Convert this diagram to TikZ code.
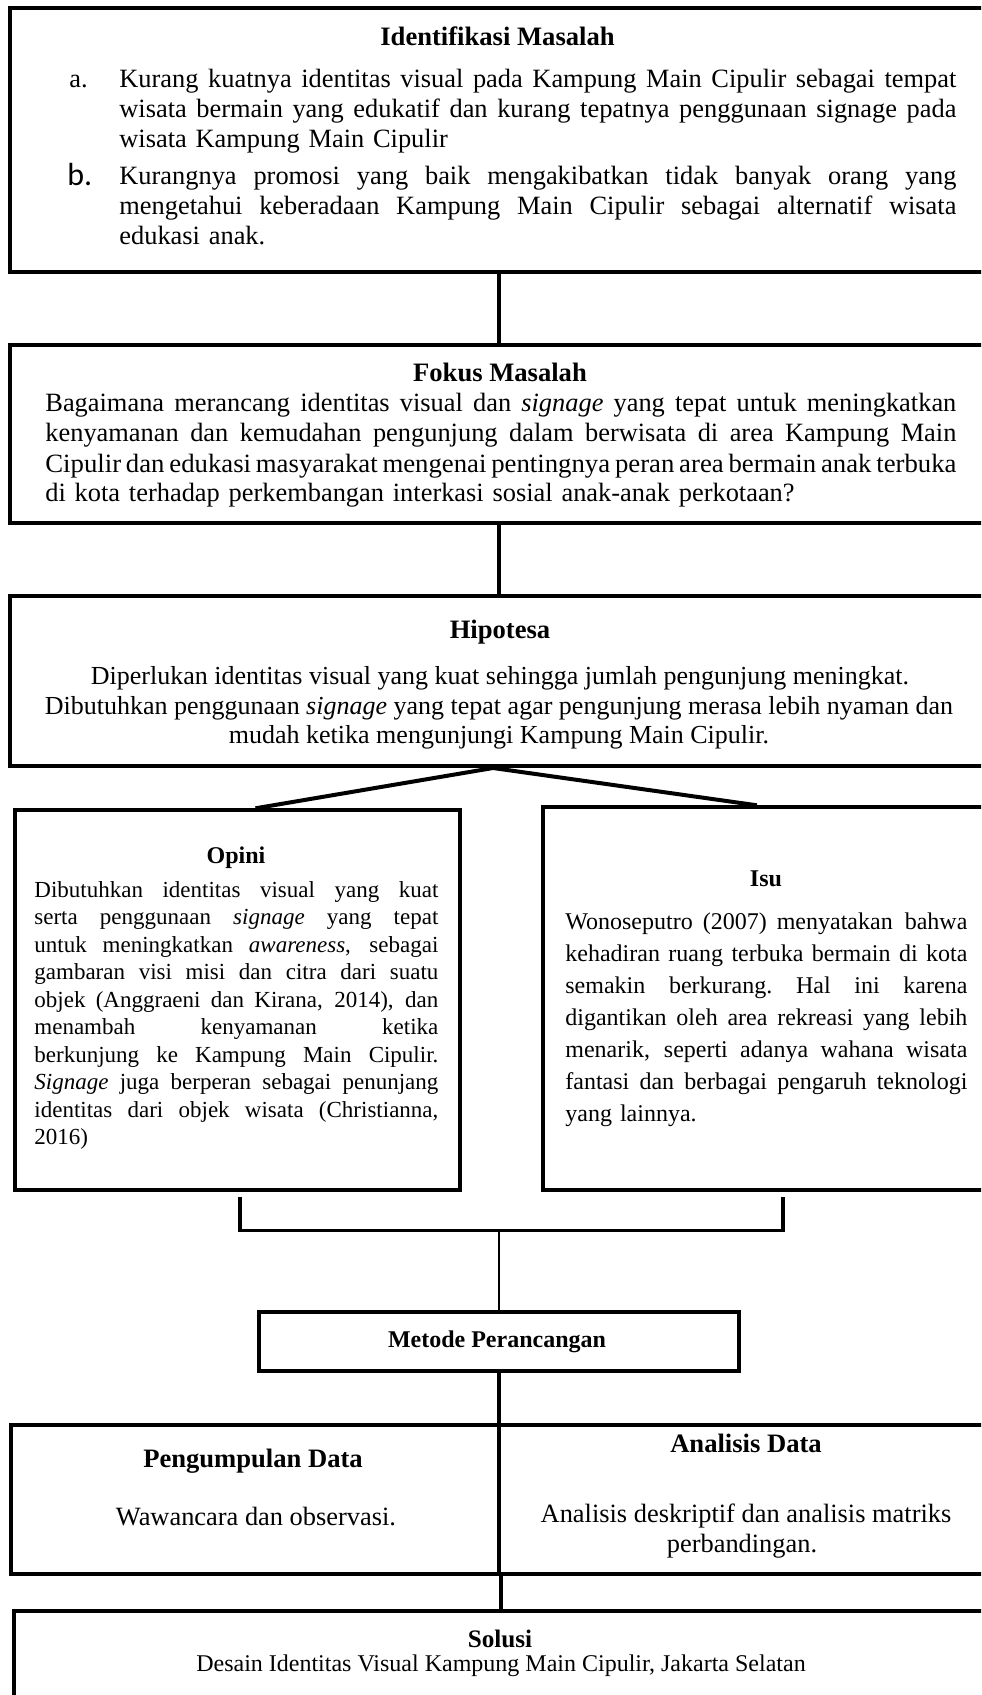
\documentclass[tikz,border=0pt]{standalone}
\usepackage{fontspec}
\usepackage{graphicx}
\setmainfont{Liberation Serif}
\newfontfamily\calfont{Carlito}
\usetikzlibrary{fit,calc}
\hbadness=10000
\hfuzz=60pt
\newcommand\jline[1]{\leavevmode\hbox to\hsize{\spaceskip=.25em plus 1fil minus .08em\relax\xspaceskip=\spaceskip #1}}
\begin{document}
\begin{tikzpicture}[x=0.5pt,y=-0.5pt,
  bx/.style={draw, line width=2pt, inner sep=0pt},
  sbx/.style={draw, line width=1.7pt, inner sep=0pt},
  conn/.style={line width=1.6pt},
  ttl/.style={font=\fontsize{13.3}{15}\selectfont\bfseries, anchor=base, inner sep=0pt},
  ttls/.style={font=\fontsize{12}{14}\selectfont\bfseries, anchor=base, inner sep=0pt},
  para/.style={font=\fontsize{13.2}{15}\selectfont, anchor=base west, inner sep=0pt},
  ctrtext/.style={font=\fontsize{13.2}{15}\selectfont, anchor=base, inner sep=0pt},
  lbl/.style={font=\fontsize{13.2}{15}\selectfont, anchor=base west, inner sep=0pt},
]
\useasboundingbox (0,0) rectangle (981,1695);
\fill[white] (0,0) rectangle (981,1695);
\clip (0,0) rectangle (981,1695);

% box corners
\coordinate (b1a) at (9.5,8);     \coordinate (b1b) at (988.5,272);
\coordinate (b2a) at (9.5,345);   \coordinate (b2b) at (988.5,523);
\coordinate (b3a) at (9.5,596);   \coordinate (b3b) at (988.5,766);
\coordinate (opa) at (15,810);    \coordinate (opb) at (460,1190);
\coordinate (isa) at (543,807);   \coordinate (isb) at (1023,1190);
\coordinate (mea) at (259,1312);  \coordinate (meb) at (739,1371);
\coordinate (pda) at (11,1425);   \coordinate (pdb) at (499,1574);
\coordinate (ada) at (499,1425);  \coordinate (adb) at (987,1574);
\coordinate (soa) at (13.5,1611); \coordinate (sob) at (984.5,1760);

\node[bx, fit=(b1a)(b1b)] (b1) {};
\node[bx, fit=(b2a)(b2b)] (b2) {};
\node[bx, fit=(b3a)(b3b)] (b3) {};
\node[sbx, fit=(opa)(opb)] (op) {};
\node[sbx, fit=(isa)(isb)] (isu) {};
\node[sbx, fit=(mea)(meb)] (met) {};
\node[bx, fit=(pda)(pdb)] (pd) {};
\node[bx, fit=(ada)(adb)] (ad) {};
\node[bx, fit=(soa)(sob)] (sol) {};

% connectors
\draw[conn] (b1.south) -- (b2.north);
\draw[conn] (b2.south) -- (b3.north);
\coordinate (apex) at ($(b3.south)+(-6,0)$);
\draw[line width=2pt] ($(op.north west)!0.54!(op.north east)$) -- (apex)
  -- ($(isu.north west)!0.446!(isu.north east)$);
\coordinate (brl) at ($(op.south)+(2.5,5)$);
\coordinate (brr) at ($(isu.south)+(0,5)$);
\coordinate (brb) at ($(brl)+(0,34)$);
\draw[conn] (brl) -- (brb) -| (brr);
\draw[line width=1.2pt] (met.north) -- (met.north |- brb);
\draw[conn] (met.south) -- (met.south |- pd.north east);
\draw[conn] (pd.south east) -- (pd.south east |- sol.north);

% Identifikasi Masalah
\node[ttl] (t1) at (497.5,45.5) {Identifikasi Masalah};
\node[lbl] (la) at (69,88) {a.};
\node[para, text width=418.5pt] (pa) at (119,88) {%
\jline{Kurang kuatnya identitas visual pada Kampung Main Cipulir sebagai tempat}\\
\jline{wisata bermain yang edukatif dan kurang tepatnya penggunaan signage pada}\\
wisata Kampung Main Cipulir};
\node[lbl, font=\calfont\fontsize{16}{16}\selectfont] (lb) at (67,186) {b.};
\node[para, text width=418.5pt] (pb) at (119,185) {%
\jline{Kurangnya promosi yang baik mengakibatkan tidak banyak orang yang}\\
\jline{mengetahui keberadaan Kampung Main Cipulir sebagai alternatif wisata}\\
edukasi anak.};

% Fokus Masalah
\node[ttl] (t2) at (500,382) {Fokus Masalah};
\node[para, text width=455.5pt] (p2) at (45,412) {%
\jline{Bagaimana merancang identitas visual dan \textit{signage} yang tepat untuk meningkatkan}\\
\jline{kenyamanan dan kemudahan pengunjung dalam berwisata di area Kampung Main}\\
\resizebox{\hsize}{\height}{\spaceskip=0.18em minus 0.05em Cipulir dan edukasi masyarakat mengenai pentingnya peran area bermain anak terbuka}\\
di kota terhadap perkembangan interkasi sosial anak-anak perkotaan?};

% Hipotesa
\node[ttl] (t3) at (500,638.5) {Hipotesa};
\node[ctrtext, font=\fontsize{13}{15}\selectfont] (p3a) at (500,684.5) {Diperlukan identitas visual yang kuat sehingga jumlah pengunjung meningkat.};
\node[ctrtext, font=\fontsize{13}{15}\selectfont] (p3b) at (499,714) {Dibutuhkan penggunaan \textit{signage} yang tepat agar pengunjung merasa lebih nyaman dan};
\node[ctrtext, font=\fontsize{13}{15}\selectfont] (p3c) at (499,743.5) {mudah ketika mengunjungi Kampung Main Cipulir.};

% Opini
\node[ttls] (t4) at (236,863) {Opini};
\node[para, font=\fontsize{11.5}{13.75}\selectfont, text width=202pt] (p4) at (34,897) {%
\jline{Dibutuhkan identitas visual yang kuat}\\
\jline{serta penggunaan \textit{signage} yang tepat}\\
\jline{untuk meningkatkan \textit{awareness}, sebagai}\\
\jline{gambaran visi misi dan citra dari suatu}\\
\jline{objek (Anggraeni dan Kirana, 2014), dan}\\
\jline{menambah kenyamanan ketika}\\
\jline{berkunjung ke Kampung Main Cipulir.}\\
\jline{\textit{Signage} juga berperan sebagai penunjang}\\
\jline{identitas dari objek wisata (Christianna,}\\
2016)};

% Isu
\node[ttls] (t5) at (766,886) {Isu};
\node[para, font=\fontsize{12}{16}\selectfont, text width=201pt] (p5) at (565,929) {%
\jline{Wonoseputro (2007) menyatakan\hskip .5em bahwa}\\
\jline{kehadiran ruang terbuka bermain di kota}\\
\jline{semakin berkurang. Hal ini karena}\\
\jline{digantikan oleh area rekreasi yang lebih}\\
\jline{menarik, seperti adanya wahana wisata}\\
\jline{fantasi dan berbagai pengaruh teknologi}\\
yang lainnya.};

% Metode
\node[ttls] (t6) at (497,1347) {Metode Perancangan};

% Pengumpulan / Analisis
\node[ttl] (t7) at (253,1467) {Pengumpulan Data};
\node[ctrtext] (t8) at (256,1525) {Wawancara dan observasi.};
\node[ttl] (t9) at (746,1452) {Analisis Data};
\node[ctrtext] (t10) at (746,1522) {Analisis deskriptif dan analisis matriks};
\node[ctrtext] (t11) at (742,1552) {perbandingan.};

% Solusi
\node[ttl, font=\fontsize{12.6}{14}\selectfont\bfseries] (t12) at (500,1647) {Solusi};
\node[ctrtext, font=\fontsize{12}{14}\selectfont] (t13) at (501,1671) {Desain Identitas Visual Kampung Main Cipulir, Jakarta Selatan};
\end{tikzpicture}
\end{document}
